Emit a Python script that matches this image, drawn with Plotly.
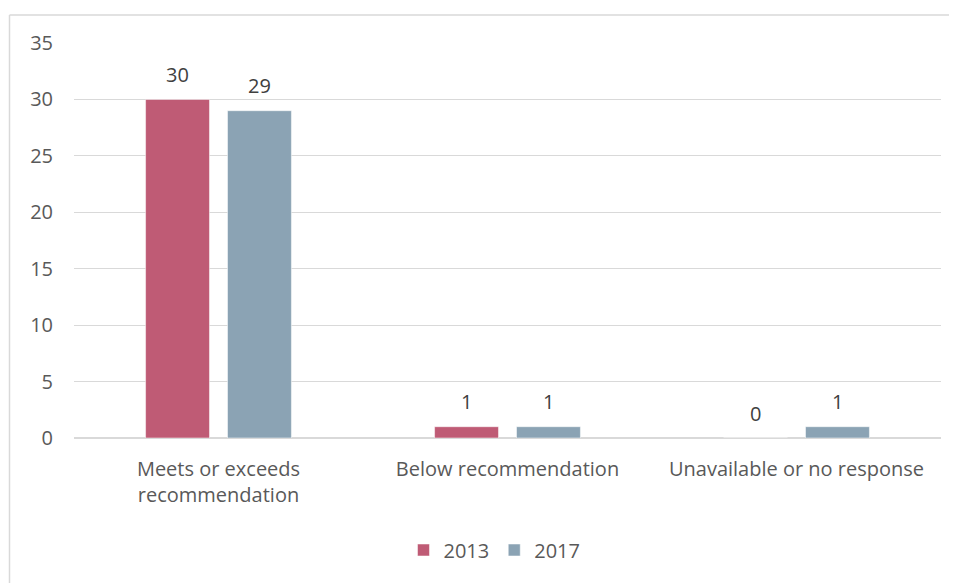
import plotly.graph_objects as go

categories = ["Meets or exceeds<br>recommendation", "Below recommendation", "Unavailable or no response"]
series_names = ["2013", "2017"]
values_2013 = [30, 1, 0]
values_2017 = [29, 1, 1]
y_ticks = [0, 5, 10, 15, 20, 25, 30, 35]

colors = ["#BF5B75", "#8BA3B4"]
font_family = "Open Sans, Liberation Sans, sans-serif"
text_color = "#595959"

OFF = 8  # page body offset
W, H = 957 - OFF, 583 - OFF
L, T = 74 - OFF, 43 - OFF
PW, PH = 867, 395
R = W - L - PW
B = H - T - PH

fig = go.Figure()
for name, vals, col in zip(series_names, [values_2013, values_2017], colors):
    fig.add_trace(go.Bar(
        x=categories, y=vals, name=name,
        marker=dict(color=col, line=dict(color="rgba(255,255,255,0.5)", width=1)),
        hoverinfo="skip",
    ))

# data labels as annotations above each bar
offsets = [-41, 41]
for vals, dx in zip([values_2013, values_2017], offsets):
    for c, v in zip(categories, vals):
        fig.add_annotation(
            x=c, y=v, text=str(v), showarrow=False,
            xshift=dx, yshift=25, yanchor="middle",
            font=dict(family=font_family, size=20, color="#404040"),
        )

# outer chart border (top and left edges visible in page)
def px_to_paper_x(px):
    return (px - OFF - L) / PW

def px_to_paper_y(py):
    return (T + PH - (py - OFF)) / PH

border = dict(color="#D9D9D9", width=1.5)
fig.add_shape(type="line", xref="paper", yref="paper",
              x0=px_to_paper_x(9.5), x1=px_to_paper_x(1000),
              y0=px_to_paper_y(15), y1=px_to_paper_y(15), line=border, layer="below")
fig.add_shape(type="line", xref="paper", yref="paper",
              x0=px_to_paper_x(9.5), x1=px_to_paper_x(9.5),
              y0=px_to_paper_y(15), y1=px_to_paper_y(650), line=border, layer="below")

fig.update_layout(
    width=W, height=H,
    margin=dict(l=L, r=R, t=T, b=B, autoexpand=False),
    paper_bgcolor="white", plot_bgcolor="white",
    barmode="group", bargap=0.433, bargroupgap=0.22,
    font=dict(family=font_family, size=20, color=text_color),
    showlegend=True,
    legend=dict(orientation="h", x=0.485, xanchor="center", y=px_to_paper_y(550), yanchor="middle",
                font=dict(size=20, color=text_color), itemwidth=30, traceorder="normal"),
    xaxis=dict(showgrid=False, showline=False, ticks="", ticklabelstandoff=17,
               tickfont=dict(size=20, color=text_color)),
    yaxis=dict(range=[0, 35], tickvals=y_ticks, showgrid=True, gridcolor="#D9D9D9", gridwidth=1,
               zeroline=True, zerolinecolor="#D9D9D9", zerolinewidth=1.5,
               showline=False, ticks="", ticklabelstandoff=20,
               tickfont=dict(size=20, color=text_color)),
)

fig.write_html("out.html")
